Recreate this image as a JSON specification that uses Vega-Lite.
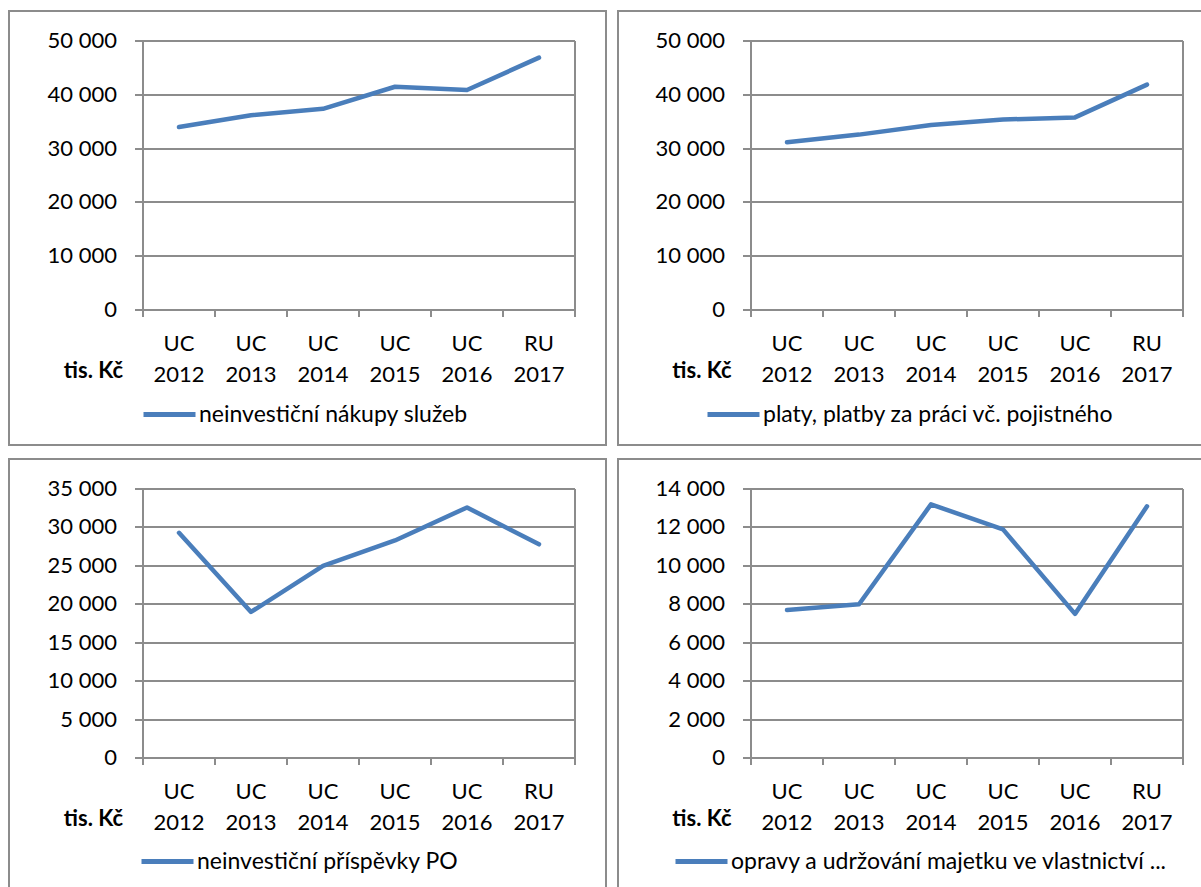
{
  "$schema": "https://vega.github.io/schema/vega-lite/v6.json",
  "padding": {"left": 8, "top": 10, "right": 0, "bottom": 0},
  "background": "white",
  "datasets": {
    "d1": [
      {"period": "UC 2012", "value": 34000, "series": "neinvestiční nákupy služeb"},
      {"period": "UC 2013", "value": 36200, "series": "neinvestiční nákupy služeb"},
      {"period": "UC 2014", "value": 37400, "series": "neinvestiční nákupy služeb"},
      {"period": "UC 2015", "value": 41500, "series": "neinvestiční nákupy služeb"},
      {"period": "UC 2016", "value": 40900, "series": "neinvestiční nákupy služeb"},
      {"period": "RU 2017", "value": 46900, "series": "neinvestiční nákupy služeb"}
    ],
    "d2": [
      {"period": "UC 2012", "value": 31200, "series": "platy, platby za práci vč. pojistného"},
      {"period": "UC 2013", "value": 32600, "series": "platy, platby za práci vč. pojistného"},
      {"period": "UC 2014", "value": 34400, "series": "platy, platby za práci vč. pojistného"},
      {"period": "UC 2015", "value": 35400, "series": "platy, platby za práci vč. pojistného"},
      {"period": "UC 2016", "value": 35800, "series": "platy, platby za práci vč. pojistného"},
      {"period": "RU 2017", "value": 41900, "series": "platy, platby za práci vč. pojistného"}
    ],
    "d3": [
      {"period": "UC 2012", "value": 29300, "series": "neinvestiční příspěvky PO"},
      {"period": "UC 2013", "value": 19000, "series": "neinvestiční příspěvky PO"},
      {"period": "UC 2014", "value": 25000, "series": "neinvestiční příspěvky PO"},
      {"period": "UC 2015", "value": 28300, "series": "neinvestiční příspěvky PO"},
      {"period": "UC 2016", "value": 32600, "series": "neinvestiční příspěvky PO"},
      {"period": "RU 2017", "value": 27800, "series": "neinvestiční příspěvky PO"}
    ],
    "d4": [
      {"period": "UC 2012", "value": 7700, "series": "opravy a udržování majetku ve vlastnictví ..."},
      {"period": "UC 2013", "value": 8000, "series": "opravy a udržování majetku ve vlastnictví ..."},
      {"period": "UC 2014", "value": 13200, "series": "opravy a udržování majetku ve vlastnictví ..."},
      {"period": "UC 2015", "value": 11900, "series": "opravy a udržování majetku ve vlastnictví ..."},
      {"period": "UC 2016", "value": 7500, "series": "opravy a udržování majetku ve vlastnictví ..."},
      {"period": "RU 2017", "value": 13100, "series": "opravy a udržování majetku ve vlastnictví ..."}
    ]
  },
  "columns": 2,
  "spacing": {"row": 14, "column": 12},
  "bounds": "flush",
  "resolve": {"scale": {"color": "independent"}, "legend": {"color": "independent"}},
  "concat": [
    {
      "width": 597, "height": 434,
      "data": {"name": "d1"},
      "resolve": {"axis": {"y": "independent"}},
      "layer": [
        {
          "mark": {"type": "line", "strokeWidth": 4.5, "strokeCap": "round", "strokeJoin": "round"},
          "encoding": {
            "x": {"field": "period", "type": "ordinal", "sort": null,
              "scale": {"type": "band", "range": [134, 566], "paddingInner": 0, "paddingOuter": 0},
              "axis": {"offset": -135, "tickBand": "extent", "tickSize": 7, "labelAngle": 0, "labelExpr": "split(datum.label, ' ')", "labelLineHeight": 31, "labelPadding": 17, "grid": false,
                "title": "tis. Kč", "titleFontWeight": "bold", "titleFontSize": 22, "titleX": 84.5, "titleY": 68, "titleBaseline": "alphabetic", "titleAlign": "center", "titleColor": "#000"}},
            "y": {"field": "value", "type": "quantitative",
              "scale": {"domain": [0, 50000], "range": [299, 30], "nice": false, "zero": true},
              "axis": {"values": [0, 10000, 20000, 30000, 40000, 50000], "format": ",d", "offset": -134, "tickSize": 8, "labelPadding": 18, "title": null, "grid": true}},
            "color": {"field": "series", "type": "nominal", "scale": {"range": ["#4a7ebb"]},
              "legend": {"orient": "none", "legendX": 132, "legendY": 375, "title": null}}
          }
        },
        {
          "mark": {"type": "point", "opacity": 0},
          "encoding": {
            "x": {"field": "period", "type": "ordinal", "sort": null},
            "y": {"field": "value", "type": "quantitative",
              "axis": {"orient": "right", "offset": -31, "labels": false, "ticks": false, "grid": false, "title": null, "domain": true}}
          }
        }
      ]
    },
    {
      "width": 585, "height": 434,
      "data": {"name": "d2"},
      "resolve": {"axis": {"y": "independent"}},
      "layer": [
        {
          "mark": {"type": "line", "strokeWidth": 4.5, "strokeCap": "round", "strokeJoin": "round"},
          "encoding": {
            "x": {"field": "period", "type": "ordinal", "sort": null,
              "scale": {"type": "band", "range": [133, 565], "paddingInner": 0, "paddingOuter": 0},
              "axis": {"offset": -135, "tickBand": "extent", "tickSize": 7, "labelAngle": 0, "labelExpr": "split(datum.label, ' ')", "labelLineHeight": 31, "labelPadding": 17, "grid": false,
                "title": "tis. Kč", "titleFontWeight": "bold", "titleFontSize": 22, "titleX": 84, "titleY": 68, "titleBaseline": "alphabetic", "titleAlign": "center", "titleColor": "#000"}},
            "y": {"field": "value", "type": "quantitative",
              "scale": {"domain": [0, 50000], "range": [299, 30], "nice": false, "zero": true},
              "axis": {"values": [0, 10000, 20000, 30000, 40000, 50000], "format": ",d", "offset": -133, "tickSize": 8, "labelPadding": 18, "title": null, "grid": true}},
            "color": {"field": "series", "type": "nominal", "scale": {"range": ["#4a7ebb"]},
              "legend": {"orient": "none", "legendX": 87, "legendY": 375, "title": null}}
          }
        },
        {
          "mark": {"type": "point", "opacity": 0},
          "encoding": {
            "x": {"field": "period", "type": "ordinal", "sort": null},
            "y": {"field": "value", "type": "quantitative",
              "axis": {"orient": "right", "offset": -20, "labels": false, "ticks": false, "grid": false, "title": null, "domain": true}}
          }
        }
      ]
    },
    {
      "width": 597, "height": 430,
      "data": {"name": "d3"},
      "resolve": {"axis": {"y": "independent"}},
      "layer": [
        {
          "mark": {"type": "line", "strokeWidth": 4.5, "strokeCap": "round", "strokeJoin": "round"},
          "encoding": {
            "x": {"field": "period", "type": "ordinal", "sort": null,
              "scale": {"type": "band", "range": [134, 566], "paddingInner": 0, "paddingOuter": 0},
              "axis": {"offset": -131, "tickBand": "extent", "tickSize": 7, "labelAngle": 0, "labelExpr": "split(datum.label, ' ')", "labelLineHeight": 31, "labelPadding": 17, "grid": false,
                "title": "tis. Kč", "titleFontWeight": "bold", "titleFontSize": 22, "titleX": 84.5, "titleY": 68, "titleBaseline": "alphabetic", "titleAlign": "center", "titleColor": "#000"}},
            "y": {"field": "value", "type": "quantitative",
              "scale": {"domain": [0, 35000], "range": [299, 30], "nice": false, "zero": true},
              "axis": {"values": [0, 5000, 10000, 15000, 20000, 25000, 30000, 35000], "format": ",d", "offset": -134, "tickSize": 8, "labelPadding": 18, "title": null, "grid": true}},
            "color": {"field": "series", "type": "nominal", "scale": {"range": ["#4a7ebb"]},
              "legend": {"orient": "none", "legendX": 130, "legendY": 374, "title": null}}
          }
        },
        {
          "mark": {"type": "point", "opacity": 0},
          "encoding": {
            "x": {"field": "period", "type": "ordinal", "sort": null},
            "y": {"field": "value", "type": "quantitative",
              "axis": {"orient": "right", "offset": -31, "labels": false, "ticks": false, "grid": false, "title": null, "domain": true}}
          }
        }
      ]
    },
    {
      "width": 585, "height": 430,
      "data": {"name": "d4"},
      "resolve": {"axis": {"y": "independent"}},
      "layer": [
        {
          "mark": {"type": "line", "strokeWidth": 4.5, "strokeCap": "round", "strokeJoin": "round"},
          "encoding": {
            "x": {"field": "period", "type": "ordinal", "sort": null,
              "scale": {"type": "band", "range": [133, 565], "paddingInner": 0, "paddingOuter": 0},
              "axis": {"offset": -131, "tickBand": "extent", "tickSize": 7, "labelAngle": 0, "labelExpr": "split(datum.label, ' ')", "labelLineHeight": 31, "labelPadding": 17, "grid": false,
                "title": "tis. Kč", "titleFontWeight": "bold", "titleFontSize": 22, "titleX": 84, "titleY": 68, "titleBaseline": "alphabetic", "titleAlign": "center", "titleColor": "#000"}},
            "y": {"field": "value", "type": "quantitative",
              "scale": {"domain": [0, 14000], "range": [299, 30], "nice": false, "zero": true},
              "axis": {"values": [0, 2000, 4000, 6000, 8000, 10000, 12000, 14000], "format": ",d", "offset": -133, "tickSize": 8, "labelPadding": 18, "title": null, "grid": true}},
            "color": {"field": "series", "type": "nominal", "scale": {"range": ["#4a7ebb"]},
              "legend": {"orient": "none", "legendX": 55, "legendY": 374, "title": null}}
          }
        },
        {
          "mark": {"type": "point", "opacity": 0},
          "encoding": {
            "x": {"field": "period", "type": "ordinal", "sort": null},
            "y": {"field": "value", "type": "quantitative",
              "axis": {"orient": "right", "offset": -20, "labels": false, "ticks": false, "grid": false, "title": null, "domain": true}}
          }
        }
      ]
    }
  ],
  "config": {
    "locale": {"number": {"decimal": ",", "thousands": " ", "grouping": [3], "currency": ["", " Kč"]}},
    "font": "Lato",
    "view": {"stroke": "#8c8c8c", "strokeWidth": 2},
    "axis": {
      "labelFont": "Lato", "labelFontSize": 22, "labelColor": "#000",
      "titleFont": "Lato",
      "domainColor": "#8c8c8c", "domainWidth": 2,
      "tickColor": "#8c8c8c", "tickWidth": 2,
      "gridColor": "#8c8c8c", "gridWidth": 2,
      "translate": 0
    },
    "legend": {
      "labelFont": "Lato", "labelFontSize": 23, "labelColor": "#000", "labelLimit": 700,
      "symbolType": "stroke", "symbolSize": 2704, "symbolStrokeWidth": 5,
      "labelOffset": 1, "padding": 0
    }
  }
}
